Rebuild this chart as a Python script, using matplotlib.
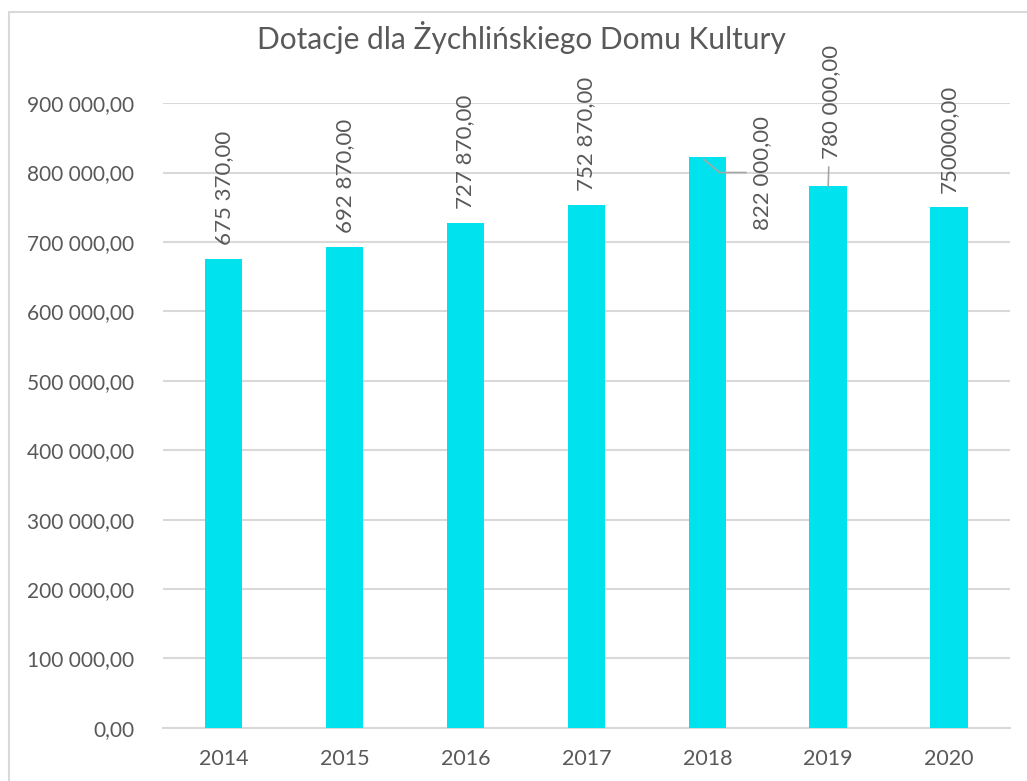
import matplotlib.pyplot as plt
from matplotlib.patches import Rectangle

# --- dane ---
years = ["2014", "2015", "2016", "2017", "2018", "2019", "2020"]
values = [675370, 692870, 727870, 752870, 822000, 780000, 750000]
value_labels = ["675 370,00", "692 870,00", "727 870,00", "752 870,00",
                "822 000,00", "780 000,00", "750000,00"]
y_ticks = [0, 100000, 200000, 300000, 400000, 500000, 600000, 700000, 800000, 900000]
y_tick_labels = ["0,00", "100 000,00", "200 000,00", "300 000,00", "400 000,00",
                 "500 000,00", "600 000,00", "700 000,00", "800 000,00", "900 000,00"]

BAR_COLOR = "#00E3EE"
TEXT_COLOR = "#595959"
GRID_COLOR = "#D9D9D9"

plt.rcParams['font.family'] = ['Lato', 'DejaVu Sans']

fig = plt.figure(figsize=(10.27, 7.81), dpi=100)
ax = fig.add_axes([0.159, 0.068, 0.824, 0.800])

x = list(range(len(years)))
ax.bar(x, values, width=0.31, color=BAR_COLOR, zorder=3)

ax.set_xlim(-0.5, len(years) - 0.5)
ax.set_ylim(0, 900000)
ax.set_yticks(y_ticks)
ax.set_yticklabels(y_tick_labels)
ax.set_xticks(x)
ax.set_xticklabels(years)
ax.tick_params(axis='both', length=0, colors=TEXT_COLOR)
ax.tick_params(axis='y', pad=21, labelsize=15)
ax.tick_params(axis='x', pad=15, labelsize=15.5)
ax.grid(axis='y', color=GRID_COLOR, linewidth=1.5, zorder=0)
for side in ["top", "right", "left"]:
    ax.spines[side].set_visible(False)
ax.spines["bottom"].set_color(GRID_COLOR)
ax.spines["bottom"].set_linewidth(1.5)

# etykiety wartosci
LABEL_SIZE = 16
for i, (v, lab) in enumerate(zip(values, value_labels)):
    if years[i] == "2018":
        ax.annotate(lab, xy=(i - 0.05, v), xytext=(i + 0.45, 800000),
                    rotation=90, ha='center', va='center', fontsize=LABEL_SIZE,
                    color=TEXT_COLOR,
                    arrowprops=dict(arrowstyle='-', color='#A6A6A6', lw=1.2,
                                    connectionstyle='angle,angleA=0,angleB=-40,rad=0'))
    elif years[i] == "2019":
        ax.annotate(lab, xy=(i, v), xytext=(i + 0.02, 820000),
                    rotation=90, ha='center', va='bottom', fontsize=LABEL_SIZE,
                    color=TEXT_COLOR,
                    arrowprops=dict(arrowstyle='-', color='#A6A6A6', lw=1.2,
                                    shrinkA=4, shrinkB=0))
    else:
        ax.text(i, v + 20000, lab, rotation=90, ha='center', va='bottom',
                fontsize=LABEL_SIZE, color=TEXT_COLOR)

fig.text(0.508, 0.952, "Dotacje dla Żychlińskiego Domu Kultury", ha='center',
         va='center', fontsize=21.5, color=TEXT_COLOR)

fig.patches.append(Rectangle((0.009, -0.01), 1.1, 0.995, transform=fig.transFigure,
                             fill=False, edgecolor=GRID_COLOR, linewidth=1.5))

fig.savefig("out.png", dpi=100)
